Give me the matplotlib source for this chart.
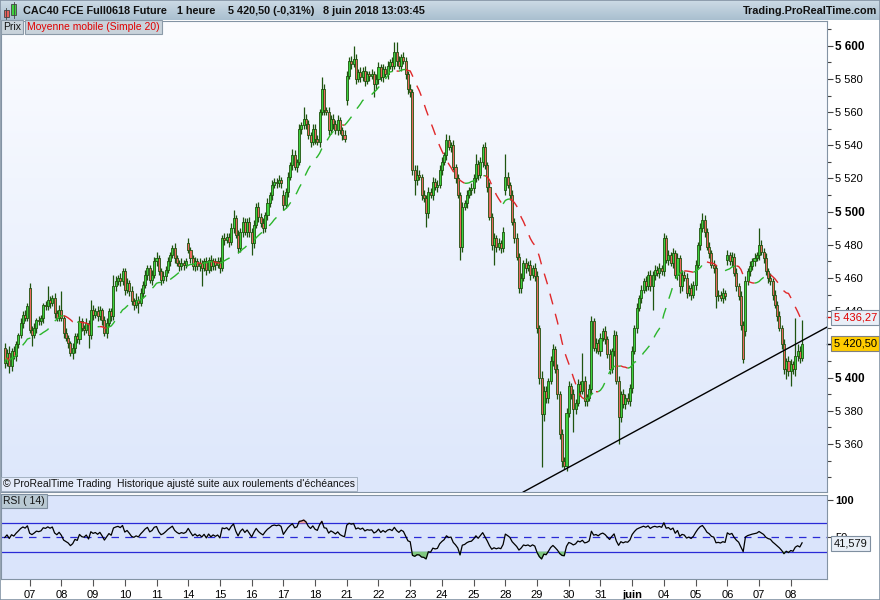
import numpy as np
import pandas as pd
import matplotlib
matplotlib.use('Agg')
import matplotlib.pyplot as plt
from matplotlib.patches import Rectangle
from matplotlib.collections import PatchCollection
from matplotlib.colors import LinearSegmentedColormap

plt.rcParams['font.family'] = ['Liberation Sans', 'DejaVu Sans']

# %%
# Hourly bars, one row per session (4 May -> 8 June 2018)
day_labels = ['', '07', '08', '09', '10', '11', '14', '15', '16', '17', '18', '21', '22',
              '23', '24', '25', '28', '29', '30', '31', 'juin', '04', '05', '06', '07', '08']

closes_by_day = [
    [5409, 5415, 5407, 5416, 5413, 5420, 5426, 5433, 5438, 5436, 5443],
    [5429, 5426, 5430, 5435, 5434, 5436, 5444, 5443, 5447, 5445, 5448, 5439, 5436, 5441],
    [5436, 5427, 5424, 5421, 5415, 5418, 5425, 5423, 5434, 5430, 5429, 5433, 5426, 5441],
    [5438, 5440, 5437, 5441, 5435, 5427, 5433, 5440, 5437, 5455, 5458, 5460, 5458, 5464],
    [5453, 5457, 5452, 5446, 5444, 5447, 5445, 5451, 5456, 5462, 5466, 5459, 5462, 5470],
    [5472, 5464, 5459, 5461, 5465, 5470, 5474, 5478, 5472, 5469, 5467, 5469, 5468, 5470],
    [5477, 5472, 5467, 5470, 5467, 5469, 5466, 5470, 5465, 5471, 5467, 5470, 5468, 5470],
    [5466, 5484, 5483, 5485, 5482, 5490, 5496, 5486, 5478, 5488, 5494, 5488, 5494, 5488],
    [5481, 5492, 5503, 5497, 5493, 5490, 5498, 5505, 5510, 5516, 5518, 5517, 5519, 5517],
    [5504, 5512, 5521, 5528, 5534, 5527, 5530, 5550, 5552, 5556, 5553, 5546, 5542, 5550],
    [5544, 5542, 5560, 5574, 5561, 5560, 5549, 5556, 5553, 5549, 5555, 5549, 5546, 5544],
    [5582, 5591, 5589, 5592, 5580, 5584, 5581, 5585, 5579, 5583, 5582, 5583, 5577, 5580],
    [5587, 5581, 5586, 5583, 5588, 5590, 5588, 5596, 5591, 5588, 5593, 5591, 5583, 5574],
    [5572, 5525, 5519, 5522, 5521, 5510, 5508, 5499, 5512, 5510, 5518, 5515, 5516, 5525],
    [5530, 5534, 5543, 5539, 5540, 5527, 5520, 5510, 5479, 5503, 5505, 5510, 5513, 5514],
    [5520, 5529, 5522, 5530, 5539, 5528, 5515, 5497, 5480, 5484, 5479, 5481, 5478, 5488],
    [5521, 5516, 5510, 5494, 5484, 5473, 5454, 5460, 5469, 5466, 5468, 5462, 5466, 5461],
    [5430, 5400, 5378, 5392, 5388, 5398, 5410, 5417, 5405, 5390, 5366, 5350, 5347, 5379],
    [5395, 5390, 5381, 5385, 5396, 5392, 5398, 5386, 5388, 5393, 5434, 5418, 5421, 5416],
    [5424, 5428, 5423, 5414, 5405, 5416, 5426, 5398, 5376, 5390, 5384, 5388, 5386, 5394],
    [5416, 5430, 5442, 5448, 5453, 5458, 5455, 5462, 5455, 5462, 5465, 5463, 5466, 5464],
    [5484, 5471, 5474, 5469, 5475, 5462, 5472, 5455, 5462, 5460, 5451, 5454, 5450, 5456],
    [5468, 5480, 5490, 5495, 5488, 5479, 5475, 5468, 5466, 5449, 5450, 5448, 5451, 5449],
    [5474, 5470, 5473, 5463, 5455, 5449, 5432, 5411, 5458, 5464, 5467, 5470, 5472, 5474],
    [5480, 5476, 5472, 5464, 5460, 5458, 5450, 5444, 5437, 5430, 5420, 5405, 5410, 5404],
    [5408, 5405, 5413, 5416, 5412, 5420.5],
]

# wick length above / below the body, in points
wick_up_by_day = [
    [3, 2, 4, 2, 3, 2, 1, 3, 2, 3, 2],
    [3, 2, 3, 1, 2, 2, 1, 2, 8, 2, 2, 3, 2, 3],
    [11, 2, 3, 2, 1, 3, 2, 2, 3, 2, 2, 3, 2, 6],
    [3, 2, 3, 2, 1, 2, 3, 2, 2, 7, 3, 2, 3, 2],
    [2, 3, 2, 3, 2, 4, 2, 3, 2, 3, 2, 2, 3, 3],
    [4, 2, 2, 3, 2, 3, 2, 2, 3, 2, 2, 3, 2, 2],
    [3, 2, 2, 3, 2, 3, 2, 2, 3, 2, 3, 2, 2, 3],
    [3, 2, 3, 2, 2, 3, 5, 2, 3, 2, 3, 2, 2, 3],
    [2, 3, 2, 3, 2, 3, 2, 3, 2, 3, 2, 2, 3, 2],
    [3, 2, 3, 2, 4, 3, 2, 3, 2, 7, 3, 2, 2, 3],
    [3, 2, 2, 7, 3, 2, 3, 2, 3, 2, 3, 2, 2, 3],
    [3, 2, 3, 8, 3, 2, 3, 2, 3, 2, 2, 3, 2, 3],
    [3, 2, 3, 2, 3, 2, 3, 6, 6, 3, 2, 3, 2, 2],
    [3, 2, 3, 6, 3, 2, 3, 2, 3, 2, 3, 2, 3, 3],
    [3, 2, 4, 3, 2, 3, 2, 3, 2, 3, 2, 3, 2, 3],
    [3, 6, 2, 3, 2, 3, 2, 3, 2, 3, 2, 3, 2, 3],
    [14, 3, 2, 3, 2, 3, 2, 3, 2, 3, 2, 3, 2, 3],
    [3, 2, 4, 3, 3, 2, 3, 3, 2, 3, 2, 3, 2, 3],
    [3, 2, 3, 2, 3, 2, 17, 3, 2, 3, 3, 2, 3, 2],
    [3, 2, 3, 2, 3, 2, 3, 2, 3, 2, 3, 2, 3, 2],
    [3, 2, 3, 2, 3, 2, 3, 2, 3, 2, 3, 2, 3, 2],
    [3, 2, 3, 2, 3, 2, 3, 2, 3, 2, 3, 2, 3, 2],
    [3, 2, 3, 4, 3, 2, 3, 2, 3, 2, 3, 2, 3, 2],
    [3, 2, 3, 2, 3, 2, 3, 2, 3, 2, 3, 2, 3, 2],
    [10, 3, 2, 3, 2, 3, 2, 3, 2, 3, 2, 3, 2, 3],
    [3, 2, 23, 4, 3, 14],
]
wick_dn_by_day = [
    [3, 2, 4, 3, 2, 3, 2, 2, 3, 2, 2],
    [2, 7, 2, 3, 2, 2, 3, 2, 2, 3, 2, 3, 2, 2],
    [2, 3, 2, 3, 2, 4, 3, 2, 3, 2, 3, 2, 8, 3],
    [3, 2, 3, 2, 3, 2, 3, 2, 3, 2, 3, 2, 3, 2],
    [3, 2, 3, 2, 3, 2, 6, 2, 3, 2, 3, 2, 3, 2],
    [3, 2, 3, 2, 3, 2, 3, 2, 3, 2, 3, 2, 3, 2],
    [2, 3, 2, 3, 2, 3, 11, 2, 3, 2, 3, 2, 3, 2],
    [3, 2, 3, 2, 3, 2, 3, 2, 3, 2, 3, 2, 3, 3],
    [7, 3, 2, 3, 2, 3, 2, 3, 2, 3, 2, 3, 2, 3],
    [3, 2, 3, 2, 3, 2, 3, 2, 3, 2, 3, 2, 3, 2],
    [3, 2, 3, 2, 3, 2, 3, 2, 3, 2, 3, 2, 3, 2],
    [3, 2, 3, 2, 3, 2, 3, 2, 3, 2, 3, 2, 8, 3],
    [3, 2, 3, 2, 3, 2, 3, 2, 3, 2, 3, 2, 3, 3],
    [3, 3, 9, 3, 2, 3, 2, 8, 3, 2, 3, 2, 3, 2],
    [3, 2, 3, 2, 3, 2, 3, 2, 8, 3, 2, 3, 2, 3],
    [3, 2, 3, 2, 3, 2, 3, 2, 3, 12, 3, 2, 3, 2],
    [3, 2, 3, 2, 3, 2, 3, 3, 2, 3, 2, 3, 2, 3],
    [3, 4, 32, 4, 3, 3, 2, 3, 2, 3, 3, 4, 2, 3],
    [3, 3, 14, 3, 2, 3, 2, 3, 3, 2, 3, 2, 3, 2],
    [3, 2, 3, 2, 3, 2, 3, 2, 16, 3, 2, 3, 2, 3],
    [3, 2, 3, 2, 3, 2, 3, 2, 3, 14, 3, 2, 3, 2],
    [3, 2, 3, 2, 3, 2, 3, 4, 3, 2, 3, 2, 3, 2],
    [3, 2, 3, 2, 3, 2, 3, 2, 3, 7, 3, 2, 3, 2],
    [3, 2, 3, 2, 3, 2, 3, 2, 3, 2, 3, 2, 3, 2],
    [3, 2, 3, 2, 3, 2, 3, 2, 3, 2, 3, 3, 6, 3],
    [9, 3, 4, 3, 3, 2],
]

first_open = 5418
# bars whose open does not sit on the previous close (session gaps)
gap_opens = {11: 5454, 81: 5481, 123: 5510, 151: 5567, 221: 5513, 319: 5471, 327: 5428}

trend_points = [(247, 5344.5), (352, 5422.3)]
last_price = 5420.50
last_ma = 5436.27
last_rsi = 41.579
price_ticks = [5360, 5380, 5400, 5420, 5440, 5460, 5480, 5500, 5520, 5540, 5560, 5580, 5600]
bold_ticks = [5400, 5500, 5600]
hidden_ticks = [5420]  # sits under the last-price box

# %%
# Build OHLC + indicators
close = np.array([c for day in closes_by_day for c in day], dtype=float)
up_w = np.array([w for day in wick_up_by_day for w in day], dtype=float)
dn_w = np.array([w for day in wick_dn_by_day for w in day], dtype=float)
n = len(close)
opn = np.r_[first_open, close[:-1]]
for k, v in gap_opens.items():
    opn[k] = v
high = np.maximum(opn, close) + up_w
low = np.minimum(opn, close) - dn_w
x = np.arange(n)

day_starts = np.cumsum([0] + [len(d) for d in closes_by_day[:-1]])

ma = pd.Series(close).rolling(20, min_periods=1).mean().values

# Wilder RSI(14); no history before the first bar, so start both averages equal (RSI 50)
d = np.diff(close)
avg_g = avg_l = np.mean(np.abs(d[:14])) / 2
rsi = np.empty(n)
rsi[0] = 50.0
for i in range(1, n):
    avg_g = (avg_g * 13 + max(d[i - 1], 0)) / 14
    avg_l = (avg_l * 13 + max(-d[i - 1], 0)) / 14
    rsi[i] = 100 - 100 / (1 + avg_g / avg_l)

# %%
# Figure layout in pixels
W, H = 880, 600
fig = plt.figure(figsize=(W / 100, H / 100), dpi=100)
fig.patch.set_facecolor('white')


def box(x0, y0, x1, y1):
    return [x0 / W, 1 - y1 / H, (x1 - x0) / W, (y1 - y0) / H]


spine_col = '#8393a4'
wick_col = '#1f5410'
up_col = '#3fd23f'
dn_col = '#e8685e'

# header bar
hdr = fig.add_axes(box(0, 0, 880, 20))
hdr.imshow(np.linspace(0, 1, 64).reshape(-1, 1), extent=[0, 880, 20, 0], aspect='auto',
           cmap=LinearSegmentedColormap.from_list('h', ['#cddbe6', '#a9bfcf']))
hdr.add_patch(Rectangle((3.5, 10), 5, 7, fc='#e8605a', ec='#444', lw=0.6))
hdr.plot([6, 6], [7.5, 18.5], color='#444', lw=0.6)
hdr.add_patch(Rectangle((11, 4), 5, 11, fc='#3fd23f', ec='#444', lw=0.6))
hdr.plot([13.5, 13.5], [1.5, 17.5], color='#444', lw=0.6)
hdr.set_xlim(0, 880)
hdr.set_ylim(20, 0)
hdr.axis('off')
hfont = dict(fontsize=7.8, fontweight='bold', va='center', color='#111')
hdr.text(23, 11, 'CAC40 FCE Full0618 Future', **hfont)
hdr.text(177, 11, '1 heure', **hfont)
hdr.text(228, 11, '5 420,50 (-0,31%)', **hfont)
hdr.text(323, 11, '8 juin 2018 13:03:45', **hfont)
hdr.text(877, 11, 'Trading.ProRealTime.com', ha='right', **hfont)

# %%
# Price panel
ax = fig.add_axes(box(1, 21, 827, 492))
ax.imshow(np.linspace(0, 1, 256).reshape(-1, 1), extent=[0, 1, 0, 1], transform=ax.transAxes,
          aspect='auto', zorder=0,
          cmap=LinearSegmentedColormap.from_list('bg', ['#fbfcff', '#dde7fb']))

ax.vlines(x, low, high, color=wick_col, lw=0.9, zorder=2)
bodies = [Rectangle((i - 0.45, min(opn[i], close[i])), 0.9, max(abs(close[i] - opn[i]), 0.4))
          for i in range(n)]
ax.add_collection(PatchCollection(bodies, facecolors=[up_col if close[i] >= opn[i] else dn_col for i in range(n)],
                                  edgecolors=wick_col, linewidths=0.6, zorder=3))

# moving average, green while rising, red while falling
rising = np.diff(ma) >= 0
start = 0
for k in range(1, len(rising) + 1):
    if k == len(rising) or rising[k] != rising[start]:
        seg = slice(start, k + 1)
        ax.plot(x[seg], ma[seg], color='#2bb52b' if rising[start] else '#e0282a',
                lw=1.0, ls=(0, (8, 7)), zorder=4)
        start = k

ax.axline(trend_points[0], trend_points[1], color='black', lw=1.0, zorder=5)

ax.set_xlim(-1.65, 363.0)
ax.set_ylim(5331.1, 5614.9)
ax.tick_params(axis='x', bottom=False, labelbottom=False)
ax.yaxis.tick_right()
ax.set_yticks(price_ticks)
ax.set_yticks(np.arange(5340, 5611, 10), minor=True)
ax.set_yticklabels(['' if v in hidden_ticks else f'{v // 1000} {v % 1000:03d}' for v in price_ticks])
ax.tick_params(axis='y', which='both', direction='out', length=4, width=0.8, color='#444',
               labelsize=8, pad=2)
ax.tick_params(axis='y', which='minor', length=3)
for lab, v in zip(ax.get_yticklabels(), price_ticks):
    if v in bold_ticks:
        lab.set_fontweight('bold')
        lab.set_fontsize(8.5)
for s in ax.spines.values():
    s.set_color(spine_col)

ytr = ax.get_yaxis_transform()
ax.plot([1.0, 1.007], [last_ma] * 2, transform=ytr, color='#e00000', lw=1, clip_on=False)
ax.text(1.008, last_ma, '5 436,27', transform=ytr, color='#e00000', fontsize=8, va='center',
        ha='left', clip_on=False, zorder=10,
        bbox=dict(boxstyle='square,pad=0.2', fc='#e9eff7', ec='#7f8fa0', lw=0.8))
ax.plot([1.0, 1.007], [last_price] * 2, transform=ytr, color='black', lw=1, clip_on=False)
ax.text(1.008, last_price, '5 420,50', transform=ytr, color='black', fontsize=8, va='center',
        ha='left', clip_on=False, zorder=10,
        bbox=dict(boxstyle='square,pad=0.2', fc='#ffcc00', ec='#7f7f7f', lw=0.8))

lbl = dict(fontsize=7.5, va='center', ha='left')
fig.text(3 / W, 1 - 27 / H, 'Prix', color='#111',
         bbox=dict(boxstyle='square,pad=0.2', fc='#c9d3db', ec='#8b9aa8', lw=0.8), **lbl)
fig.text(27 / W, 1 - 27 / H, 'Moyenne mobile (Simple 20)', color='#e00000',
         bbox=dict(boxstyle='square,pad=0.2', fc='#c9d3db', ec='#8b9aa8', lw=0.8), **lbl)
fig.text(3 / W, 1 - 484 / H,
         "\u00a9 ProRealTime Trading  Historique ajust\u00e9 suite aux roulements d'\u00e9ch\u00e9ances",
         color='#111', bbox=dict(boxstyle='square,pad=0.15', fc='#e4ebfa', ec='#9aa8b8', lw=0.6), **lbl)

# %%
# RSI panel
ax_rsi = fig.add_axes(box(1, 495, 827, 579))
ax_rsi.set_facecolor('#dae4fb')
for lvl, style in [(70, '-'), (50, (0, (6, 5))), (30, '-')]:
    ax_rsi.axhline(lvl, color='#2a2ad6', lw=0.9, ls=style, zorder=1)
ax_rsi.fill_between(x, rsi, 30, where=rsi < 30, interpolate=True, color='#7fc87f', zorder=2)
ax_rsi.fill_between(x, rsi, 70, where=rsi > 70, interpolate=True, color='#f0a0a0', zorder=2)
ax_rsi.plot(x, rsi, color='black', lw=0.9, zorder=3)
ax_rsi.set_xlim(-1.65, 363.0)
ax_rsi.set_ylim(-6.1, 107.4)
ax_rsi.yaxis.tick_right()
ax_rsi.set_yticks([100, 50])
ax_rsi.set_yticklabels(['100', '50'])
ax_rsi.get_yticklabels()[0].set_fontweight('bold')
ax_rsi.get_yticklabels()[0].set_fontsize(9)
ax_rsi.tick_params(axis='y', direction='out', length=4, width=0.8, color='#444', labelsize=8, pad=2)
ax_rsi.set_xticks(day_starts[1:])
ax_rsi.set_xticklabels(day_labels[1:])
ax_rsi.tick_params(axis='x', direction='out', length=5, width=0.8, color='#555', labelsize=8, pad=3)
for lab in ax_rsi.get_xticklabels():
    if lab.get_text() == 'juin':
        lab.set_fontweight('bold')
for s in ax_rsi.spines.values():
    s.set_color(spine_col)

rtr = ax_rsi.get_yaxis_transform()
ax_rsi.text(1.008, last_rsi, '41,579', transform=rtr, color='#111', fontsize=8, va='center',
            ha='left', clip_on=False, zorder=10,
            bbox=dict(boxstyle='square,pad=0.2', fc='#e9eff7', ec='#7f8fa0', lw=0.8))
fig.text(3 / W, 1 - 501 / H, 'RSI ( 14)', color='#111',
         bbox=dict(boxstyle='square,pad=0.2', fc='#b9c9d3', ec='#7f8fa0', lw=0.8), **lbl)

fig.patches.append(Rectangle((0, 0), 1, 1, transform=fig.transFigure, fill=False,
                             ec='#8393a4', lw=1.2))

fig.savefig('out.png', dpi=100)
